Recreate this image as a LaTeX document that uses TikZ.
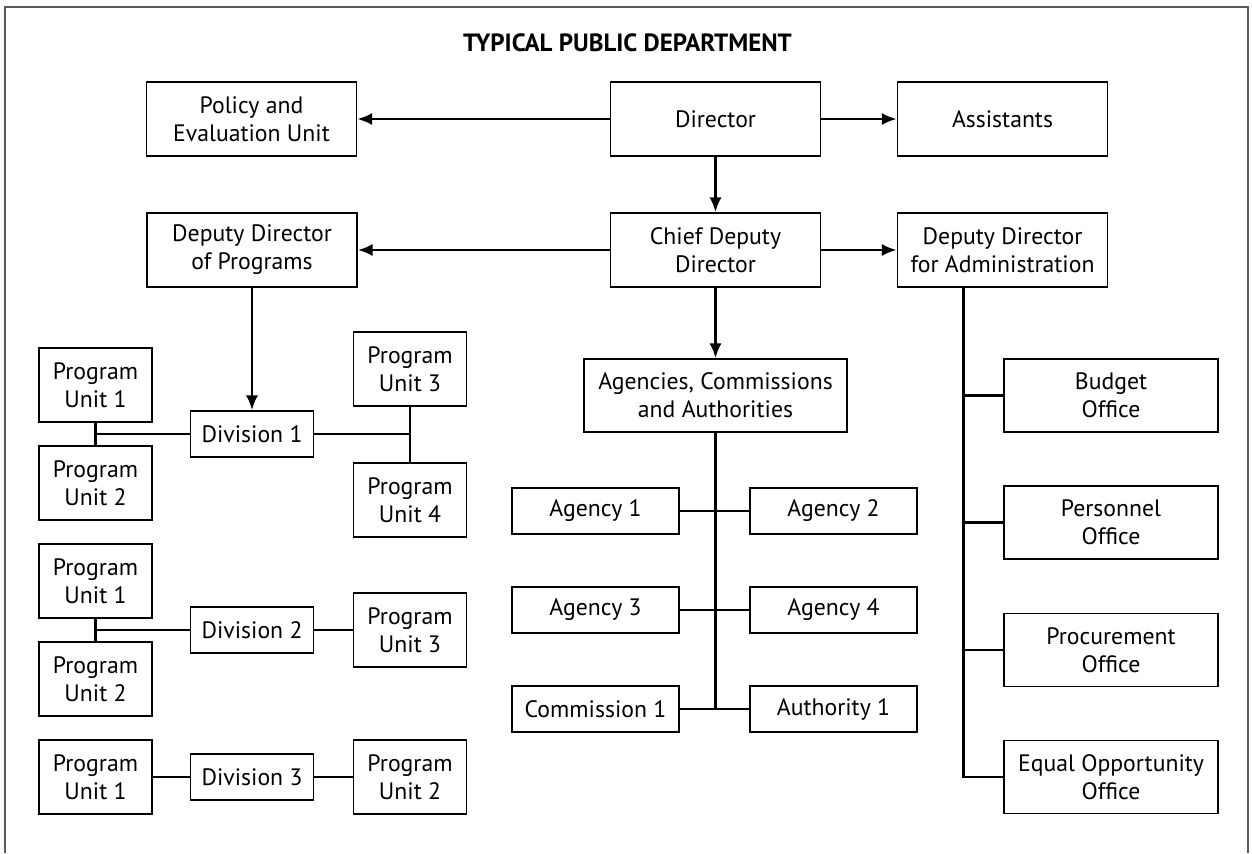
\documentclass[tikz,border=0pt]{standalone}
\usepackage{fontspec}
\setmainfont{PT Sans}
\usetikzlibrary{arrows.meta}
\definecolor{framegray}{RGB}{90, 90, 90}

\begin{document}
\begin{tikzpicture}[
    font=\fontsize{13.5}{16}\selectfont,
    box/.style={draw, line width=0.9pt, align=center, inner sep=0pt},
    bigbox/.style={box, minimum width=4.2cm, minimum height=1.48cm},
    progbox/.style={box, minimum width=2.26cm, minimum height=1.48cm},
    divbox/.style={box, minimum width=2.46cm, minimum height=0.92cm},
    agbox/.style={box, minimum width=3.34cm, minimum height=0.92cm},
    offbox/.style={box, minimum width=4.28cm, minimum height=1.46cm},
    link/.style={line width=1.6pt},
    arrowlink/.style={link, -{Latex[length=8.5pt, width=7pt]}}
]
    % Page size and open frame
    \useasboundingbox (0, 0) rectangle (25.04, -17.06);
    \draw[framegray, line width=0.6pt] (0.1, -17.06) -- (0.1, -0.14) -- (24.96, -0.14) -- (24.96, -17.06);

    % Title
    \node[font=\fontsize{14.2}{16}\selectfont\bfseries] (title) at (12.55, -0.85) {TYPICAL PUBLIC DEPARTMENT};

    % Top levels
    \node[bigbox] (policy) at (5.03, -2.38) {Policy and\\Evaluation Unit};
    \node[bigbox] (dir) at (14.31, -2.38) {Director};
    \node[bigbox] (asst) at (20.05, -2.38) {Assistants};
    \node[bigbox] (ddp) at (5.04, -5.00) {Deputy Director\\of Programs};
    \node[bigbox] (chief) at (14.31, -5.00) {Chief Deputy\\Director};
    \node[bigbox] (dda) at (20.05, -5.00) {Deputy Director\\for Administration};

    \draw[arrowlink] (dir.west) -- (policy.east);
    \draw[arrowlink] (dir.east) -- (asst.west);
    \draw[arrowlink] (dir.south) -- (chief.north);
    \draw[arrowlink] (chief.west) -- (ddp.east);
    \draw[arrowlink] (chief.east) -- (dda.west);

    % Division 1
    \node[divbox] (div1) at (5.04, -8.68) {Division 1};
    \node[progbox] (pu11) at (1.91, -7.70) {Program\\Unit 1};
    \node[progbox] (pu12) at (1.91, -9.66) {Program\\Unit 2};
    \node[progbox] (pu13) at (8.20, -7.38) {Program\\Unit 3};
    \node[progbox] (pu14) at (8.20, -10.00) {Program\\Unit 4};
    \draw[arrowlink] (ddp.south) -- (div1.north);
    \draw[link] (pu11.south) -- (pu12.north);
    \draw[link] (div1.west) -- (div1.west -| pu11.south);
    \draw[link] (pu13.south) -- (pu14.north);
    \draw[link] (div1.east) -- (div1.east -| pu13.south);

    % Division 2
    \node[divbox] (div2) at (5.04, -12.60) {Division 2};
    \node[progbox] (pu21) at (1.91, -11.62) {Program\\Unit 1};
    \node[progbox] (pu22) at (1.91, -13.58) {Program\\Unit 2};
    \node[progbox] (pu23) at (8.20, -12.60) {Program\\Unit 3};
    \draw[link] (pu21.south) -- (pu22.north);
    \draw[link] (div2.west) -- (div2.west -| pu21.south);
    \draw[link] (div2.east) -- (pu23.west);

    % Division 3
    \node[divbox] (div3) at (5.04, -15.54) {Division 3};
    \node[progbox] (pu31) at (1.91, -15.54) {Program\\Unit 1};
    \node[progbox] (pu32) at (8.20, -15.54) {Program\\Unit 2};
    \draw[link] (pu31.east) -- (div3.west);
    \draw[link] (div3.east) -- (pu32.west);

    % Agencies, commissions and authorities
    \node[box, minimum width=5.26cm, minimum height=1.46cm] (aca) at (14.31, -7.91) {Agencies, Commissions\\and Authorities};
    \node[agbox] (ag1) at (11.91, -10.22) {Agency 1};
    \node[agbox] (ag2) at (16.67, -10.22) {Agency 2};
    \node[agbox] (ag3) at (11.91, -12.20) {Agency 3};
    \node[agbox] (ag4) at (16.67, -12.20) {Agency 4};
    \node[agbox] (com1) at (11.91, -14.18) {Commission 1};
    \node[agbox] (auth1) at (16.67, -14.18) {Authority 1};
    \draw[arrowlink] (chief.south) -- (aca.north);
    \draw[link] (aca.south) -- (aca.south |- com1.east);
    \draw[link] (ag1.east) -- (ag2.west);
    \draw[link] (ag3.east) -- (ag4.west);
    \draw[link] (com1.east) -- (auth1.west);

    % Administration offices
    \node[offbox] (bud) at (22.22, -7.91) {Budget\\Office};
    \node[offbox] (pers) at (22.22, -10.45) {Personnel\\Office};
    \node[offbox] (proc) at (22.22, -13.00) {Procurement\\Office};
    \node[offbox] (eqop) at (22.22, -15.54) {Equal Opportunity\\Office};
    \coordinate (trunk) at ([xshift=1.34cm]dda.south west);
    \draw[link] (trunk) |- (eqop.west);
    \draw[link] (bud.west) -- (bud.west -| trunk);
    \draw[link] (pers.west) -- (pers.west -| trunk);
    \draw[link] (proc.west) -- (proc.west -| trunk);
\end{tikzpicture}
\end{document}
